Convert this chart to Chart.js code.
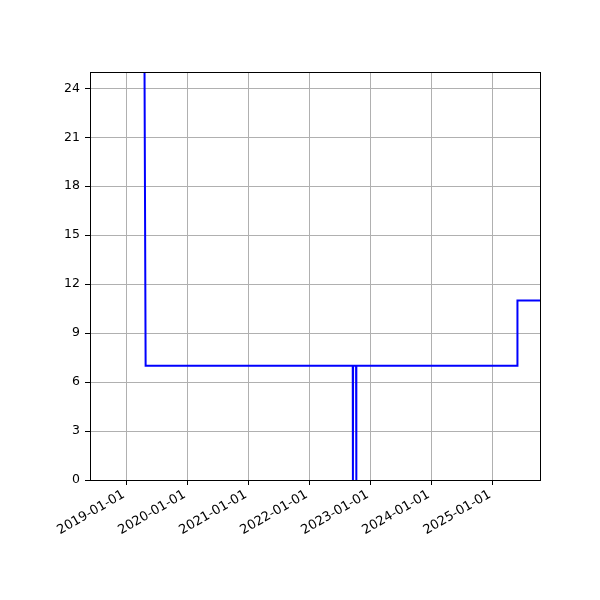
<!DOCTYPE html>
<html lang="en">
<head>
    <meta charset="UTF-8">
    <title>Step chart</title>
    <style>
        body { margin: 0; background: #fff; }
        #wrap { width: 600px; height: 600px; }
    </style>
    <script src="https://cdn.jsdelivr.net/npm/chart.js"></script>
</head>
<body>
    <div id="wrap"><canvas id="chart" width="600" height="600"></canvas></div>
    <script>
        // data
        const dates = ['2019-04-12', '2019-04-24', '2022-09-15', '2022-09-16', '2022-09-17',
                       '2022-10-05', '2022-10-06', '2022-10-07', '2025-05-27', '2025-05-28', '2025-10-10'];
        const values = [40, 7, 7, 0, 7, 7, 0, 7, 7, 11, 11];
        const xTickDates = ['2019-01-01', '2020-01-01', '2021-01-01', '2022-01-01',
                            '2023-01-01', '2024-01-01', '2025-01-01'];
        const yTicks = [0, 3, 6, 9, 12, 15, 18, 21, 24];
        const xRange = ['2018-05-26', '2025-10-10'];
        const yRange = [0, 25];

        const ms = d => Date.parse(d + 'T00:00:00Z');
        const fmt = v => new Date(v).toISOString().slice(0, 10);

        // box round the plot area, like matplotlib spines
        const frame = {
            id: 'frame',
            afterDraw(chart) {
                const a = chart.chartArea, c = chart.ctx;
                c.save();
                c.strokeStyle = '#000';
                c.lineWidth = 1;
                c.strokeRect(Math.round(a.left) + 0.5, Math.round(a.top) + 0.5,
                             Math.round(a.right - a.left), Math.round(a.bottom - a.top));
                c.restore();
            }
        };

        new Chart(document.getElementById('chart'), {
            type: 'line',
            data: {
                datasets: [{
                    data: dates.map((d, i) => ({ x: ms(d), y: values[i] })),
                    borderColor: '#0000ff',
                    borderWidth: 2,
                    pointRadius: 0,
                    tension: 0,
                    fill: false
                }]
            },
            options: {
                responsive: false,
                animation: false,
                layout: { padding: { left: 0, top: 72, right: 60, bottom: 0 } },
                plugins: { legend: { display: false }, tooltip: { enabled: false } },
                scales: {
                    x: {
                        type: 'linear',
                        min: ms(xRange[0]),
                        max: ms(xRange[1]),
                        afterBuildTicks: axis => { axis.ticks = xTickDates.map(d => ({ value: ms(d) })); },
                        afterFit: axis => { axis.height = 120; },
                        ticks: {
                            callback: v => fmt(v),
                            minRotation: 30,
                            maxRotation: 30,
                            autoSkip: false,
                            color: '#000',
                            padding: 2,
                            labelOffset: -3,
                            font: { family: 'DejaVu Sans', size: 13 }
                        },
                        grid: { color: '#b0b0b0', lineWidth: 1, tickLength: 5, tickColor: '#000' },
                        border: { color: '#000', width: 1 }
                    },
                    y: {
                        min: yRange[0],
                        max: yRange[1],
                        afterBuildTicks: axis => { axis.ticks = yTicks.map(v => ({ value: v })); },
                        afterFit: axis => { axis.width = 90; },
                        ticks: {
                            color: '#000',
                            padding: 5,
                            font: { family: 'DejaVu Sans', size: 12.5 }
                        },
                        grid: { color: '#b0b0b0', lineWidth: 1, tickLength: 5, tickColor: '#000' },
                        border: { color: '#000', width: 1 }
                    }
                }
            },
            plugins: [frame]
        });
    </script>
</body>
</html>
